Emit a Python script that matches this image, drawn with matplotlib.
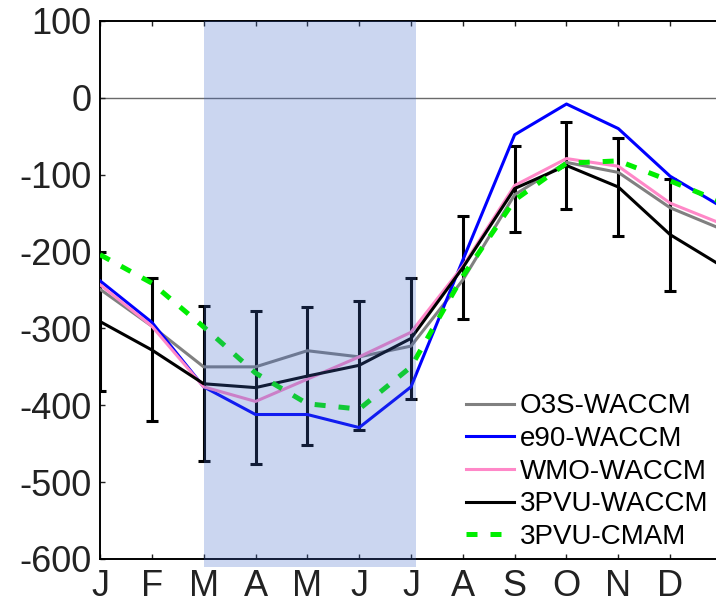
import matplotlib
matplotlib.use("Agg")
import matplotlib.pyplot as plt
from matplotlib.patches import Rectangle

plt.rcParams['font.family'] = ['Liberation Sans', 'DejaVu Sans']
plt.rcParams['axes.unicode_minus'] = False

# months 1..12 plus the start of the next January (13)
months = [1, 2, 3, 4, 5, 6, 7, 8, 9, 10, 11, 12, 13]
month_labels = ['J', 'F', 'M', 'A', 'M', 'J', 'J', 'A', 'S', 'O', 'N', 'D']

o3s_waccm = [-249, -297, -350, -350, -329, -337, -323, -237, -126, -84, -97, -143, -171]
e90_waccm = [-238, -292, -376, -412, -412, -429, -376, -211, -48, -8, -40, -102, -142]
wmo_waccm = [-243, -297, -376, -395, -366, -337, -305, -219, -114, -79, -89, -137, -164]
pvu_waccm = [-291, -328, -372, -377, -362, -348, -313, -221, -118, -88, -116, -178, -219]
pvu_cmam = [-204, -241, -298, -358, -398, -405, -350, -232, -133, -85, -82, -108, -136]

# spread drawn around 3PVU-WACCM
pvu_err = [91, 93, 101, 100, 90, 84, 79, 67, 56, 57, 64, 73]

shade_start = 3.0
shade_end = 7.1

fig = plt.figure(figsize=(7.16, 6.03), dpi=100)
ax = fig.add_axes([100 / 716, 44 / 603, 622 / 716, 538 / 603])

ax.axhline(0, color='#6a6a6a', lw=1.0, zorder=1)

ax.errorbar(months[:12], pvu_waccm[:12], yerr=pvu_err, fmt='none', ecolor='black',
            elinewidth=2.2, capsize=4.3, capthick=2.2, zorder=2)

ax.plot(months, o3s_waccm, color='#808080', lw=2.2, label='O3S-WACCM', zorder=3)
ax.plot(months, e90_waccm, color='#0000ff', lw=2.2, label='e90-WACCM', zorder=3)
ax.plot(months, wmo_waccm, color='#ff88c8', lw=2.2, label='WMO-WACCM', zorder=3)
ax.plot(months, pvu_waccm, color='black', lw=2.2, label='3PVU-WACCM', zorder=3)
ax.plot(months, pvu_cmam, color='#00ee00', lw=3.6, ls=(0, (2.2, 2.6)),
        label='3PVU-CMAM', zorder=4)

ax.add_patch(Rectangle((shade_start, -610), shade_end - shade_start, 710,
                       facecolor=(63 / 255, 104 / 255, 200 / 255), alpha=0.27,
                       edgecolor='none', clip_on=False, zorder=5))

ax.set_xlim(1, 13)
ax.set_ylim(-600, 100)
ax.set_xticks(months[:12])
ax.set_xticklabels(month_labels)
ax.set_yticks(range(-600, 101, 100))
ax.tick_params(direction='in', top=True, right=True, length=3.6, width=1,
               labelsize=26, colors='#222222')
ax.tick_params(axis='x', pad=7)
ax.tick_params(axis='y', pad=6)
for s in ax.spines.values():
    s.set_linewidth(1.4)

ax.legend(loc='lower right', bbox_to_anchor=(0.996, -0.004), frameon=False,
          fontsize=20, handlelength=1.75, handletextpad=0.2, labelspacing=0.24,
          borderaxespad=0)

fig.savefig('out.png', dpi=100)
